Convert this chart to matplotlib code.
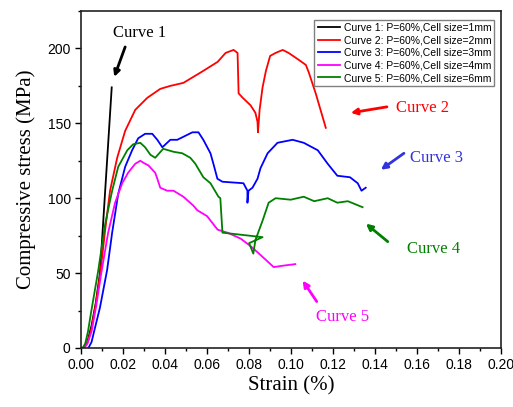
import matplotlib
matplotlib.use('Agg')
import matplotlib.pyplot as plt
from matplotlib.ticker import MultipleLocator

# strain / stress values
c1_x = [0.001, 0.003, 0.005, 0.007, 0.009, 0.0146]
c1_y = [0, 4, 15, 30, 50, 174]

c2_x = [0.0015, 0.003, 0.005, 0.007, 0.009, 0.0115, 0.0138, 0.0172, 0.021, 0.0258, 0.0315,
        0.0377, 0.0425, 0.0487, 0.057, 0.065, 0.0688, 0.0726, 0.0745, 0.075, 0.077, 0.0807,
        0.083, 0.084, 0.0842, 0.085, 0.0864, 0.088, 0.090, 0.0926, 0.096, 0.0988, 0.103,
        0.107, 0.1084, 0.1117, 0.1165]
c2_y = [0, 3, 13, 29, 48, 79, 105, 127, 145, 159, 167, 173, 175, 177, 184, 191, 197, 199,
        197, 170, 167, 162, 157, 151, 144, 159, 174, 185, 195, 197, 199, 197, 193, 189, 184,
        170, 147]

c3_x = [0.0035, 0.005, 0.0062, 0.009, 0.0124, 0.0148, 0.0177, 0.021, 0.0243, 0.0272, 0.0305,
        0.0339, 0.0363, 0.0387, 0.0425, 0.0458, 0.0487, 0.053, 0.0559, 0.0582, 0.0616, 0.063,
        0.0649, 0.0673, 0.0773, 0.0792, 0.0792, 0.0797, 0.0816, 0.084, 0.0854, 0.0888, 0.0935,
        0.1007, 0.106, 0.1127, 0.1174, 0.122, 0.128, 0.1317, 0.1335, 0.1355]
c3_y = [0, 4, 11, 27, 52, 77, 103, 121, 132, 140, 143, 143, 139, 134, 139, 139, 141, 144, 144,
        139, 130, 123, 113, 111, 110, 105, 97, 105, 107, 113, 120, 130, 137, 139, 137, 132, 123,
        115, 114, 110, 105, 107]

c4_x = [0.0015, 0.003, 0.005, 0.0072, 0.0095, 0.0129, 0.0162, 0.0196, 0.0224, 0.0258, 0.0282,
        0.0305, 0.032, 0.0353, 0.0363, 0.0377, 0.041, 0.044, 0.0487, 0.0535, 0.0553, 0.06,
        0.065, 0.0697, 0.076, 0.0807, 0.0855, 0.0917, 0.0964, 0.102]
c4_y = [0, 3, 11, 28, 49, 77, 97, 110, 117, 123, 125, 123, 122, 117, 113, 107, 105, 105, 101,
        95, 92, 88, 79, 77, 73, 68, 62, 54, 55, 56]

c5_x = [0.0, 0.001, 0.002, 0.0033, 0.0048, 0.0065, 0.0081, 0.0115, 0.0148, 0.0177, 0.022,
        0.0248, 0.0282, 0.0305, 0.033, 0.0353, 0.0391, 0.044, 0.0482, 0.052, 0.0544, 0.0582,
        0.0616, 0.0654, 0.0663, 0.0673, 0.0864, 0.080, 0.082, 0.083, 0.0864, 0.0893, 0.0926,
        0.0998, 0.106, 0.111, 0.1174, 0.122, 0.127, 0.134]
c5_y = [0, 0.5, 3, 11, 24, 38, 51, 83, 105, 121, 132, 136, 137, 134, 129, 127, 133, 131, 130,
        127, 123, 114, 110, 101, 100, 77, 74, 70, 63, 72, 85, 97, 100, 99, 101, 98, 100, 97,
        98, 94]

labels = ['Curve 1: P=60%,Cell size=1mm', 'Curve 2: P=60%,Cell size=2mm',
          'Curve 3: P=60%,Cell size=3mm', 'Curve 4: P=60%,Cell size=4mm',
          'Curve 5: P=60%,Cell size=6mm']
colors = ['black', 'red', 'blue', 'magenta', 'green']

fig = plt.figure(figsize=(5.13, 4.07), dpi=100)
ax = fig.add_axes([0.158, 0.145, 0.819, 0.828])

series = [(c1_x, c1_y), (c2_x, c2_y), (c3_x, c3_y), (c4_x, c4_y), (c5_x, c5_y)]
for (xs, ys), lab, col in zip(series, labels, colors):
    ax.plot(xs, ys, color=col, lw=1.3, label=lab)

ax.set_xlim(0, 0.20)
ax.set_ylim(0, 225)
ax.xaxis.set_major_locator(MultipleLocator(0.02))
ax.xaxis.set_minor_locator(MultipleLocator(0.01))
ax.yaxis.set_major_locator(MultipleLocator(50))
ax.yaxis.set_minor_locator(MultipleLocator(25))
ax.xaxis.set_major_formatter(plt.FuncFormatter(lambda v, p: '%.2f' % v))
ax.tick_params(which='major', direction='out', length=4, width=1, labelsize=10)
ax.tick_params(which='minor', direction='out', length=2.5, width=1)
for lbl in ax.get_xticklabels() + ax.get_yticklabels():
    lbl.set_fontfamily('Liberation Sans')
for sp in ax.spines.values():
    sp.set_linewidth(1.2)
    sp.set_color('#222222')

ax.set_xlabel('Strain (%)', fontfamily='Liberation Serif', fontsize=15, labelpad=3)
ax.set_ylabel('Compressive stress (MPa)', fontfamily='Liberation Serif', fontsize=15, labelpad=8)

leg = ax.legend(loc='upper right', bbox_to_anchor=(0.996, 0.99),
                prop={'family': 'Liberation Sans', 'size': 7.5}, fancybox=False,
                edgecolor='gray', framealpha=1, handlelength=2.2, labelspacing=0.25,
                borderpad=0.3, handletextpad=0.3)
leg.get_frame().set_linewidth(1.0)

# callouts: (text, text pos, arrow tail, arrow head, color)
notes = [('Curve 1', (0.0277, 210), (0.021, 201), (0.0158, 181), 'black'),
         ('Curve 2', (0.1623, 160), (0.1456, 161), (0.1284, 157), 'red'),
         ('Curve 3', (0.169, 127), (0.1537, 130), (0.1427, 119), '#3333dd'),
         ('Curve 4', (0.1676, 66), (0.146, 71), (0.1356, 83), 'green'),
         ('Curve 5', (0.1246, 21), (0.1122, 31), (0.1055, 45), 'magenta')]
for txt, tpos, tail, head, col in notes:
    ax.text(tpos[0], tpos[1], txt, color=col, fontsize=12, fontfamily='Liberation Serif',
            ha='center', va='center')
    ax.annotate('', xy=head, xytext=tail,
                arrowprops=dict(arrowstyle='-|>', color=col, lw=2, mutation_scale=9,
                                shrinkA=0, shrinkB=0))

fig.savefig('out.png', dpi=100)
